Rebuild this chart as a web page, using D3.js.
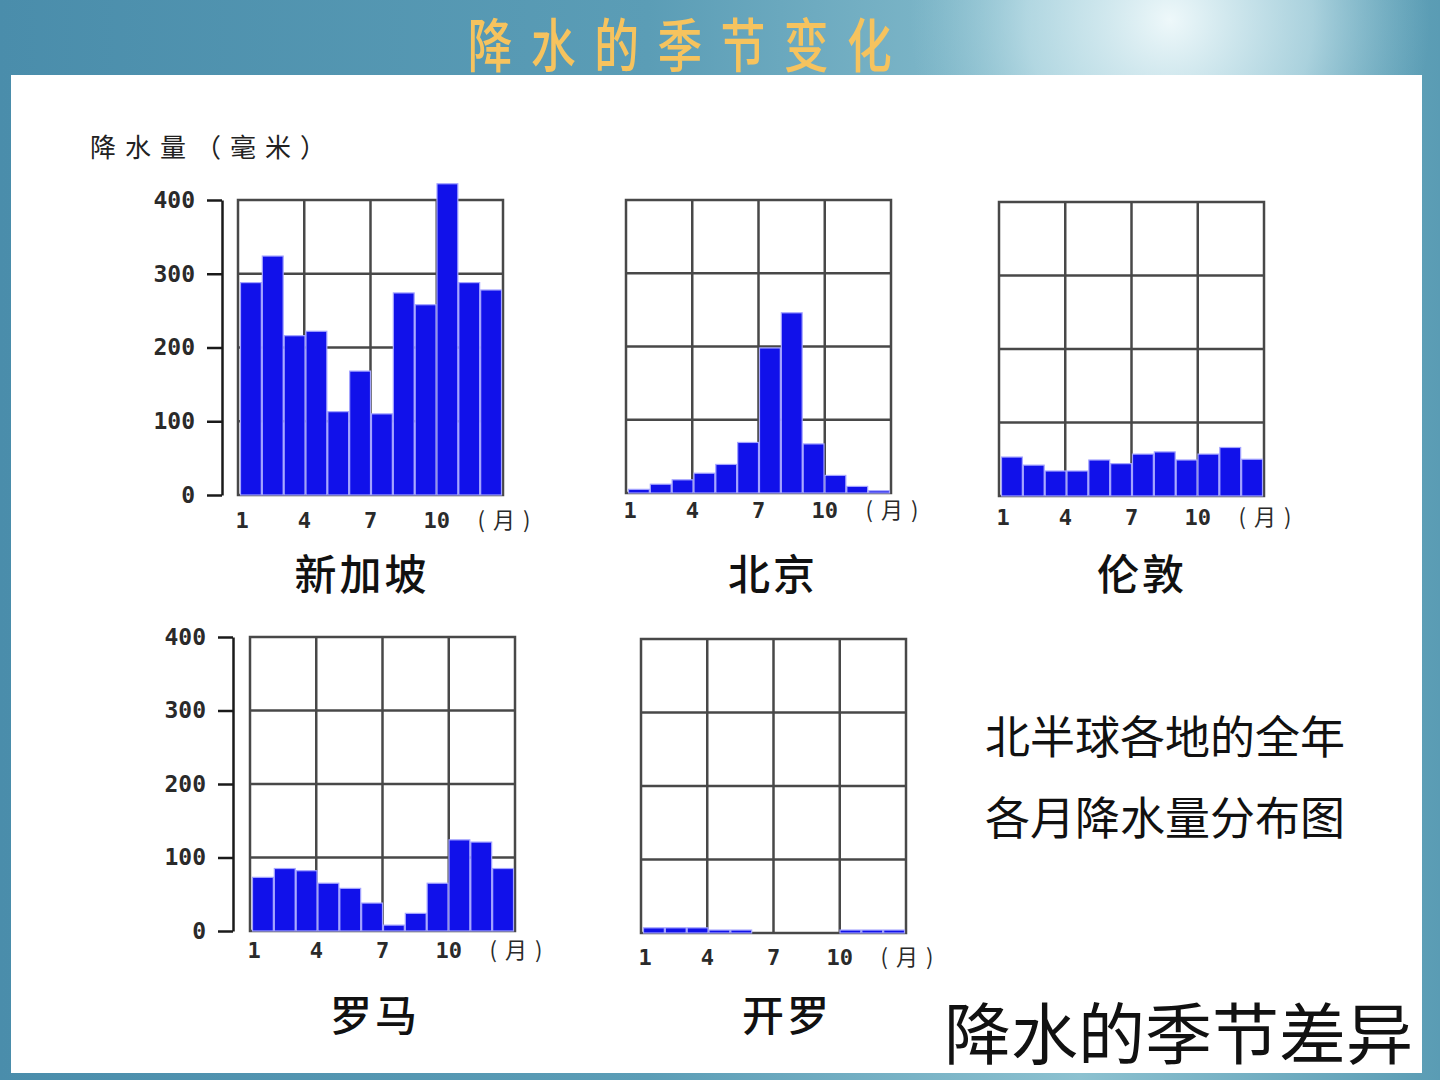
<!DOCTYPE html>
<html>
<head>
<meta charset="utf-8">
<script src="https://cdnjs.cloudflare.com/ajax/libs/d3/7.8.5/d3.min.js"></script>
<style>
  html, body { margin: 0; padding: 0; background: #4d92ad; }
  svg { display: block; }
</style>
</head>
<body>
<div id="chart"></div>
<script>
// 月份与刻度
const months = [1, 2, 3, 4, 5, 6, 7, 8, 9, 10, 11, 12];
const xTicks = [1, 4, 7, 10];
const yTicks = [0, 100, 200, 300, 400];

// 各城市各月降水量（毫米）
const singapore = [288, 324, 216, 222, 113, 168, 110, 274, 258, 422, 288, 278];
const beijing = [5, 12, 18, 27, 39, 69, 198, 246, 67, 24, 9, 3];
const london = [53, 42, 34, 34, 49, 44, 57, 60, 49, 57, 66, 50];
const rome = [73, 85, 82, 65, 58, 38, 8, 24, 65, 124, 121, 85];
const cairo = [7, 7, 7, 4, 4, 0, 0, 0, 0, 4, 4, 4];

const cityNames = ["新加坡", "北京", "伦敦", "罗马", "开罗"];
const cityValues = [singapore, beijing, london, rome, cairo];

// 每个小图的位置
const layout = [
  { left: 238, top: 200, bottom: 495, axisX: 222, labelDy: 33, nameX: 362, nameY: 590 },
  { left: 626, top: 200, bottom: 493, axisX: null, labelDy: 25, nameX: 773, nameY: 590 },
  { left: 999, top: 202, bottom: 496, axisX: null, labelDy: 29, nameX: 1142, nameY: 590 },
  { left: 250, top: 637, bottom: 931, axisX: 233, labelDy: 27, nameX: 375, nameY: 1031 },
  { left: 641, top: 639, bottom: 933, axisX: null, labelDy: 32, nameX: 787, nameY: 1031 }
];

const W = 1440, H = 1080;
const boxW = 265;
const cjk = "'Noto Sans CJK SC', 'Noto Sans CJK TC', sans-serif";
const mono = "'DejaVu Sans Mono', 'Liberation Mono', monospace";

const svg = d3.select("#chart").append("svg")
  .attr("width", W)
  .attr("height", H);

// 背景
const defs = svg.append("defs");
const lg = defs.append("linearGradient").attr("id", "bg").attr("x1", 0).attr("y1", 0).attr("x2", 1).attr("y2", 0);
lg.append("stop").attr("offset", "0%").attr("stop-color", "#4a8dab");
lg.append("stop").attr("offset", "45%").attr("stop-color", "#5b9db6");
lg.append("stop").attr("offset", "75%").attr("stop-color", "#8cc1d0");
lg.append("stop").attr("offset", "100%").attr("stop-color", "#5a9cb4");
const rg = defs.append("radialGradient").attr("id", "glow")
  .attr("gradientUnits", "userSpaceOnUse")
  .attr("cx", 1170).attr("cy", 20).attr("r", 260);
rg.append("stop").attr("offset", "0%").attr("stop-color", "#eef8fa").attr("stop-opacity", 1);
rg.append("stop").attr("offset", "55%").attr("stop-color", "#c4e2ea").attr("stop-opacity", 0.7);
rg.append("stop").attr("offset", "100%").attr("stop-color", "#9ccbd8").attr("stop-opacity", 0);

svg.append("rect").attr("width", W).attr("height", H).attr("fill", "url(#bg)");
svg.append("rect").attr("width", W).attr("height", H).attr("fill", "url(#glow)");

// 白色面板
svg.append("rect")
  .attr("x", 11).attr("y", 75)
  .attr("width", 1411).attr("height", 998)
  .attr("fill", "#ffffff");

// 标题
svg.append("text")
  .attr("transform", "translate(689,67) scale(0.8,1.04)")
  .attr("text-anchor", "middle")
  .style("font-family", cjk)
  .style("font-size", "56px")
  .style("font-weight", 500)
  .style("letter-spacing", "23px")
  .style("fill", "#f6c35e")
  .text("降水的季节变化");

// 纵轴标题
svg.append("text")
  .attr("x", 90).attr("y", 157)
  .style("font-family", cjk)
  .style("font-size", "26px")
  .style("letter-spacing", "9px")
  .style("fill", "#222")
  .text("降水量（毫米）");

layout.forEach((L, i) => {
  const values = cityValues[i];
  const g = svg.append("g");

  const y = d3.scaleLinear().domain([0, 400]).range([L.bottom, L.top]);
  const xLin = d3.scaleLinear().domain([0, 12]).range([L.left, L.left + boxW]);
  const xb = d3.scaleBand().domain(months).range([L.left + 2, L.left + boxW - 1]).padding(0);

  // 网格
  const grid = g.append("g")
    .attr("stroke", "#484848")
    .attr("stroke-width", 2.5)
    .attr("fill", "none");
  grid.append("rect")
    .attr("x", xLin(0)).attr("y", y(400))
    .attr("width", xLin(12) - xLin(0))
    .attr("height", y(0) - y(400));
  grid.selectAll("line.h")
    .data([100, 200, 300])
    .enter().append("line")
    .attr("x1", xLin(0)).attr("x2", xLin(12))
    .attr("y1", d => y(d)).attr("y2", d => y(d));
  grid.selectAll("line.v")
    .data([3, 6, 9])
    .enter().append("line")
    .attr("x1", d => xLin(d)).attr("x2", d => xLin(d))
    .attr("y1", y(400)).attr("y2", y(0));

  // 柱子
  g.selectAll("rect.bar")
    .data(months.filter((m, k) => values[k] > 0))
    .enter().append("rect")
    .attr("class", "bar")
    .attr("x", m => xb(m) + 0.5)
    .attr("y", m => y(values[m - 1]))
    .attr("width", xb.bandwidth() - 1)
    .attr("height", m => y(0) - y(values[m - 1]))
    .attr("fill", "#1111ea")
    .attr("stroke", "#a4a4ff")
    .attr("stroke-width", 1.2);

  // 纵轴
  if (L.axisX !== null) {
    const ax = g.append("g")
      .attr("transform", `translate(${L.axisX},0)`)
      .call(d3.axisLeft(y).tickValues(yTicks).tickSize(15).tickSizeOuter(0).tickPadding(12));
    ax.select(".domain").attr("stroke", "#1a1a1a").attr("stroke-width", 2.5);
    ax.selectAll(".tick line").attr("stroke", "#1a1a1a").attr("stroke-width", 2.5);
    ax.selectAll(".tick text")
      .style("font-family", mono)
      .style("font-size", "23px")
      .style("font-weight", "bold")
      .style("fill", "#2a2a2a");
  }

  // 横轴刻度文字
  g.selectAll("text.xt")
    .data(xTicks)
    .enter().append("text")
    .attr("x", d => xLin(d - 1) + (d === 1 ? 4 : 0))
    .attr("y", L.bottom + L.labelDy)
    .attr("text-anchor", "middle")
    .style("font-family", mono)
    .style("font-size", "22px")
    .style("font-weight", "bold")
    .style("fill", "#2a2a2a")
    .text(d => d);

  g.append("text")
    .attr("x", xLin(12) + 5)
    .attr("y", L.bottom + L.labelDy)
    .attr("text-anchor", "middle")
    .style("font-family", cjk)
    .style("font-size", "22px")
    .style("letter-spacing", "8px")
    .style("fill", "#2a2a2a")
    .text("(月)");

  // 城市名
  g.append("text")
    .attr("x", L.nameX).attr("y", L.nameY)
    .attr("text-anchor", "middle")
    .style("font-family", cjk)
    .style("font-size", "42px")
    .style("font-weight", 500)
    .style("letter-spacing", "3px")
    .style("fill", "#111")
    .text(cityNames[i]);
});

// 说明文字
svg.append("text")
  .attr("x", 985).attr("y", 754)
  .style("font-family", cjk)
  .style("font-size", "45px")
  .style("fill", "#111")
  .text("北半球各地的全年");
svg.append("text")
  .attr("x", 985).attr("y", 835)
  .style("font-family", cjk)
  .style("font-size", "45px")
  .style("fill", "#111")
  .text("各月降水量分布图");

svg.append("text")
  .attr("x", 944).attr("y", 1059)
  .style("font-family", cjk)
  .style("font-size", "67px")
  .style("fill", "#111")
  .text("降水的季节差异");
</script>
</body>
</html>
